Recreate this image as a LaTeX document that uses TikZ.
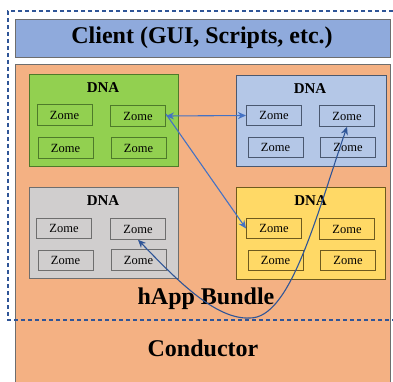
\documentclass[tikz,border=0pt]{standalone}
\usepackage{fontspec}
\setmainfont{Liberation Serif}
\usetikzlibrary{arrows.meta}
\definecolor{clientfill}{HTML}{8FAADC}
\definecolor{bundlefill}{HTML}{F4B183}
\definecolor{greenfill}{HTML}{92D050}
\definecolor{greenline}{HTML}{4E7A2A}
\definecolor{bluefill}{HTML}{B4C7E7}
\definecolor{blueline}{HTML}{4A5870}
\definecolor{greyfill}{HTML}{D0CECE}
\definecolor{greyline}{HTML}{6E6E6E}
\definecolor{yellowfill}{HTML}{FFD966}
\definecolor{yellowline}{HTML}{6E5A1E}
\definecolor{arrowblue}{HTML}{4472C4}
\definecolor{darkblue}{HTML}{2F5597}
\begin{document}
\begin{tikzpicture}[x=1pt,y=-1pt,
  bigbox/.style={draw=#1, line width=0.8pt, inner sep=0pt, anchor=north west},
  dnabox/.style={draw=#1, line width=0.8pt, inner sep=0pt},
  zomebox/.style={draw=#1, line width=1pt, minimum width=55pt, minimum height=20.5pt, inner sep=0pt, font=\fontsize{12.5}{14}\selectfont},
  dnatitle/.style={font=\fontsize{15}{17}\selectfont\bfseries, inner sep=0pt},
  bigtext/.style={font=\fontsize{24}{28}\selectfont\bfseries, inner sep=0pt},
  conn/.style={draw=arrowblue, line width=1.1pt},
  tip/.style={-{Stealth[length=8pt,width=7pt]}},
  dtip/.style={{Stealth[length=8pt,width=7pt]}-{Stealth[length=8pt,width=7pt]}},
  dashline/.style={draw=darkblue, line width=1.4pt, dash pattern=on 4pt off 3pt}
]
\clip (0,0) rectangle (393,382);
% outer boxes
\fill[white] (0,0) rectangle (393,382);
\draw[bigbox=greyline, fill=clientfill] (15,19) rectangle (390,57);
\node[bigtext] (client) at (202,38) {Client (GUI, Scripts, etc.)};
\draw[bigbox=greyline, fill=bundlefill] (15,64) rectangle (390,395);
% DNA boxes
\node[dnabox=greenline, fill=greenfill, minimum width=149pt, minimum height=92pt] (dg) at (103.5,120) {};
\node[dnabox=blueline, fill=bluefill, minimum width=150pt, minimum height=91pt] (db) at (311,120.5) {};
\node[dnabox=greyline, fill=greyfill, minimum width=149pt, minimum height=91pt] (dr) at (103.5,232.5) {};
\node[dnabox=yellowline, fill=yellowfill, minimum width=149pt, minimum height=92pt] (dy) at (310.5,233) {};
\node[dnatitle] (tg) at (103,88) {DNA};
\node[dnatitle] (tb) at (310,89) {DNA};
\node[dnatitle] (tr) at (103,200.5) {DNA};
\node[dnatitle] (ty) at (310.5,200.5) {DNA};
% zomes
\node[zomebox=greenline] (g1) at (64.5,115) {Zome};
\node[zomebox=greenline] (g2) at (138,116) {Zome};
\node[zomebox=greenline] (g3) at (65.5,148) {Zome};
\node[zomebox=greenline] (g4) at (138.5,148) {Zome};
\node[zomebox=blueline] (b1) at (274,115.5) {Zome};
\node[zomebox=blueline] (b2) at (347,116) {Zome};
\node[zomebox=blueline] (b3) at (275.5,147.5) {Zome};
\node[zomebox=blueline] (b4) at (348,147.5) {Zome};
\node[zomebox=greyline] (r1) at (64,228.5) {Zome};
\node[zomebox=greyline] (r2) at (138,229) {Zome};
\node[zomebox=greyline] (r3) at (65.5,260.5) {Zome};
\node[zomebox=greyline] (r4) at (138.5,260) {Zome};
\node[zomebox=yellowline] (y1) at (274,228.5) {Zome};
\node[zomebox=yellowline] (y2) at (347,229) {Zome};
\node[zomebox=yellowline] (y3) at (275.5,260.5) {Zome};
\node[zomebox=yellowline] (y4) at (348,260.5) {Zome};
% labels
\node[bigtext] (happ) at (206,299) {hApp Bundle};
\node[bigtext] (cond) at (203,348) {Conductor};
% connectors
\draw[conn, dtip] (g2.east) -- (b1.west);
\draw[conn, tip] ([yshift=2pt]g2.east) -- (y1.west);
\draw[conn, draw=darkblue, dtip]
  (r2.south) .. controls (175,278) and (215,320) .. (250,318)
  .. controls (290,318) and (315,220) .. (b2.south);
% dashed boundary
\draw[dashline] (400,11) -- (8,11) -- (8,320) -- (400,320);
\end{tikzpicture}
\end{document}
